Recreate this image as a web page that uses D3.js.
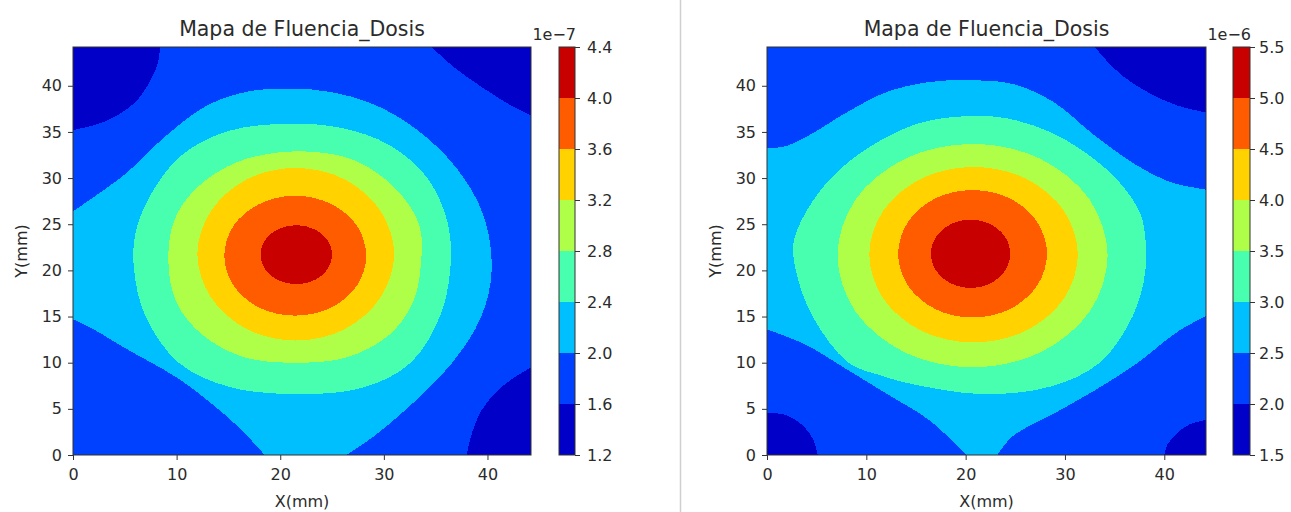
<!DOCTYPE html>
<html>
<head>
<meta charset="utf-8">
<script src="https://cdn.jsdelivr.net/npm/d3@7"></script>
<style>
  html, body { margin: 0; padding: 0; background: #fff; }
  svg { display: block; }
  text { font-family: "DejaVu Sans", sans-serif; fill: #2b2b2b; }
</style>
</head>
<body>
<svg id="fig" width="1291" height="512"></svg>
<script>
// ---- axis ticks and extent (mm) ----
const axisMax = 44.2;
const xTicks = [0, 10, 20, 30, 40];
const yTicks = [0, 5, 10, 15, 20, 25, 30, 35, 40];

// ---- contour levels ----
const leftLevels  = [1.2, 1.6, 2.0, 2.4, 2.8, 3.2, 3.6, 4.0, 4.4];   // x 1e-7
const rightLevels = [1.5, 2.0, 2.5, 3.0, 3.5, 4.0, 4.5, 5.0, 5.5];   // x 1e-6
const leftExponent = "1e\u22127";
const rightExponent = "1e\u22126";

// ---- left map: iso-lines [x mm, y mm] bounding each region z >= level ----
// a region with several pieces runs along the plot edges between pieces
const leftIso16 = [
  [[0, 0]],
  [[0, 35.2], [3, 36.1], [5.8, 38.0], [7.4, 40.4], [8.2, 42.5], [8.4, 44.2]],
  [[34.6, 44.2], [37, 41.8], [39.8, 39.6], [42.2, 37.9], [44.2, 36.8]],
  [[44.2, 9.5], [42.6, 8.4], [41, 7.0], [39.4, 4.8], [38.4, 2.0], [38, 0]]
];
const leftIso20 = [
  [[0, 26.4], [5, 30.4], [9, 34.6], [13, 37.9], [17, 39.4], [21, 39.7], [25, 39.3], [29, 38],
   [33, 35.4], [37, 31.1], [39.6, 26], [40.4, 20], [39.4, 15], [36.6, 10], [32.2, 5], [29, 2], [26.4, 0]],
  [[18.5, 0], [16, 3.0], [13, 5.9], [10, 8.4], [5, 11.6], [2, 13.6], [0, 14.7]]
];
const leftIso24 = [
  [[21.2, 35.9], [26, 35.4], [30.5, 33.6], [34.2, 30], [36.2, 25], [36.4, 20], [35.4, 15], [32.6, 10],
   [28, 7.3], [21.5, 6.6], [15, 7.4], [10.2, 10], [7, 15], [5.9, 20], [6, 23.9], [7.4, 28], [10.4, 32.4], [15, 35.1]]
];
const leftIso28 = [
  [[21.4, 32.9], [27, 32], [31, 29], [33.4, 25], [33.6, 21], [32.8, 16.5], [30.5, 13], [26.5, 10.6],
   [21.5, 10], [16.5, 10.6], [12.5, 13], [10, 16.5], [9.2, 21], [9.8, 25.5], [12, 29], [16, 31.8]]
];
const leftIso32 = [
  [[31.0, 21.75], [29.7, 26.4], [26.25, 29.85], [21.5, 31.1], [16.75, 29.85], [13.3, 26.4],
   [12, 21.75], [13.3, 17.1], [16.75, 13.65], [21.5, 12.4], [26.25, 13.65], [29.7, 17.1]]
];
const leftIso36 = [
  [[28.3, 21.6], [27.4, 24.85], [24.9, 27.2], [21.45, 28.1], [18.0, 27.2], [15.5, 24.85],
   [14.6, 21.6], [15.5, 18.35], [18.0, 15.95], [21.45, 15.1], [24.9, 15.95], [27.4, 18.35]]
];
const leftIso40 = [
  [[25, 21.7], [24.54, 23.3], [23.28, 24.47], [21.55, 24.9], [19.82, 24.47], [18.56, 23.3],
   [18.1, 21.7], [18.56, 20.1], [19.82, 18.93], [21.55, 18.5], [23.28, 18.93], [24.54, 20.1]]
];

// ---- right map ----
const rightIso20 = [
  [[0, 44.2]],
  [[33, 44.2], [34.3, 42.6], [36, 40.9], [38.5, 39.2], [41.2, 37.9], [44.2, 37.1]],
  [[44.2, 3.8], [42.5, 3.3], [41.2, 2.3], [40.3, 1.1], [40, 0]],
  [[5.1, 0], [4.6, 1.8], [3.6, 3.2], [2, 4.3], [0, 4.6]]
];
const rightIso25 = [
  [[0, 33.2], [2, 33.5], [4.5, 34.8], [8, 37.1], [12, 39.3], [16.3, 40.4], [20, 40.6], [24.7, 40.2],
   [28.9, 38.2], [33, 34.6], [37.2, 31.4], [40.5, 29.6], [44.2, 28.75]],
  [[44.2, 15.05], [41.4, 13.4], [37.2, 9.9], [33, 7.0], [28.9, 4.5], [24.7, 2.0], [23.2, 0]],
  [[20.1, 0], [16.3, 3.8], [12.1, 6.6], [8, 9.3], [3.8, 12], [0, 13.6]]
];
const rightIso30 = [
  [[20, 36.7], [24, 36.5], [28.5, 35], [32, 32.8], [35.1, 30], [37.2, 27], [37.9, 25], [38.1, 20],
   [36.8, 15], [33.5, 10], [28.5, 7.4], [21.7, 6.6], [15, 7.6], [11.5, 8.6], [8.2, 10], [4.6, 15],
   [2.9, 20], [2.7, 23.2], [4.6, 27.5], [7.5, 31.1], [11.3, 34], [15.5, 36]]
];
const rightIso35 = [
  [[34.3, 21.6], [32.5, 27.65], [27.5, 32.1], [20.7, 33.7], [13.9, 32.1], [8.9, 27.65],
   [7.1, 21.6], [8.9, 15.55], [13.9, 11.1], [20.7, 9.5], [27.5, 11.1], [32.5, 15.55]]
];
const rightIso40 = [
  [[31.3, 21.7], [29.9, 26.45], [26.05, 29.95], [20.8, 31.2], [15.55, 29.95], [11.7, 26.45],
   [10.3, 21.7], [11.7, 16.95], [15.55, 13.45], [20.8, 12.2], [26.05, 13.45], [29.9, 16.95]]
];
const rightIso45 = [
  [[28.2, 21.8], [27.2, 25.25], [24.45, 27.8], [20.7, 28.7], [16.95, 27.8], [14.2, 25.25],
   [13.2, 21.8], [14.2, 18.35], [16.95, 15.8], [20.7, 14.9], [24.45, 15.8], [27.2, 18.35]]
];
const rightIso50 = [
  [[24.5, 21.8], [23.96, 23.65], [22.5, 25.0], [20.5, 25.5], [18.5, 25.0], [17.04, 23.65],
   [16.5, 21.8], [17.04, 19.95], [18.5, 18.6], [20.5, 18.1], [22.5, 18.6], [23.96, 19.95]]
];

const titleText = "Mapa de Fluencia_Dosis";
const xLabelText = "X(mm)";
const yLabelText = "Y(mm)";

// ---- jet colormap (piecewise linear, matplotlib definition) ----
const jetR = d3.scaleLinear().domain([0, 0.35, 0.66, 0.89, 1]).range([0, 0, 1, 1, 0.5]).clamp(true);
const jetG = d3.scaleLinear().domain([0, 0.125, 0.375, 0.64, 0.91, 1]).range([0, 0, 1, 1, 0, 0]).clamp(true);
const jetB = d3.scaleLinear().domain([0, 0.11, 0.34, 0.65, 1]).range([0.5, 1, 1, 0, 0]).clamp(true);
const jet = t => d3.rgb(Math.round(255 * jetR(t)), Math.round(255 * jetG(t)), Math.round(255 * jetB(t))).formatHex();

const svg = d3.select("#fig");
const tickFont = 16;

// notebook cell divider
svg.append("line").attr("x1", 680.5).attr("x2", 680.5).attr("y1", 0).attr("y2", 512)
  .attr("stroke", "#cfcfcf").attr("stroke-width", 1.5);

// builds a path for a region made of curve pieces joined along the plot edges
function regionPath(pieces, sx, sy) {
  const p = d3.path();
  if (pieces.length === 1) {
    return d3.line().x(d => sx(d[0])).y(d => sy(d[1]))
      .curve(d3.curveCatmullRomClosed.alpha(0.5))(pieces[0]);
  }
  let started = false;
  const ctx = {
    moveTo(a, b) { if (started) p.lineTo(a, b); else { p.moveTo(a, b); started = true; } },
    lineTo(a, b) { p.lineTo(a, b); },
    bezierCurveTo(a, b, c, d, e, f) { p.bezierCurveTo(a, b, c, d, e, f); },
    closePath() {}
  };
  const gen = d3.line().x(d => sx(d[0])).y(d => sy(d[1]))
    .curve(d3.curveCatmullRom.alpha(0.5)).context(ctx);
  pieces.forEach(pc => gen(pc));
  p.closePath();
  return p.toString();
}

function styleTicks(a) {
  a.select(".domain").remove();
  a.selectAll(".tick line").attr("stroke", "#333");
  a.selectAll(".tick text").attr("font-size", tickFont).attr("font-family", "DejaVu Sans").attr("fill", "#2b2b2b");
}

function drawPanel(cfg, idx) {
  const { x0, x1, y0, y1, cb0, cb1, cbPad, ylabX, levels, regions, exponent } = cfg;
  const sx = d3.scaleLinear().domain([0, axisMax]).range([x0, x1]);
  const sy = d3.scaleLinear().domain([0, axisMax]).range([y1, y0]);
  const lo = levels[0], hi = levels[levels.length - 1];
  const bandColor = i => jet(((levels[i] + levels[i + 1]) / 2 - lo) / (hi - lo));

  const g = svg.append("g");
  const clipId = "clip" + idx;
  g.append("clipPath").attr("id", clipId)
    .append("rect").attr("x", x0).attr("y", y0).attr("width", x1 - x0).attr("height", y1 - y0);

  const maps = g.append("g").attr("clip-path", `url(#${clipId})`);
  maps.append("rect").attr("x", x0).attr("y", y0).attr("width", x1 - x0).attr("height", y1 - y0)
    .attr("fill", bandColor(0));
  maps.selectAll("path.band").data(regions).join("path")
    .attr("class", "band")
    .attr("d", r => regionPath(r, sx, sy))
    .attr("fill", (r, i) => bandColor(i + 1))
    .attr("shape-rendering", "crispEdges");

  // frame
  g.append("rect").attr("x", x0).attr("y", y0).attr("width", x1 - x0).attr("height", y1 - y0)
    .attr("fill", "none").attr("stroke", "#333").attr("stroke-width", 1);

  // axes
  const xAxis = d3.axisBottom(sx).tickValues(xTicks).tickSize(5).tickPadding(9).tickFormat(d3.format("d"));
  const yAxis = d3.axisLeft(sy).tickValues(yTicks).tickSize(5).tickPadding(6).tickFormat(d3.format("d"));
  styleTicks(g.append("g").attr("transform", `translate(0,${y1})`).call(xAxis));
  styleTicks(g.append("g").attr("transform", `translate(${x0},0)`).call(yAxis));

  // title and axis labels
  g.append("text").attr("x", (x0 + x1) / 2).attr("y", 36).attr("text-anchor", "middle")
    .attr("font-size", 20.5).text(titleText);
  g.append("text").attr("x", (x0 + x1) / 2).attr("y", 507).attr("text-anchor", "middle")
    .attr("font-size", 16).text(xLabelText);
  g.append("text").attr("transform", `translate(${ylabX},${(y0 + y1) / 2}) rotate(-90)`)
    .attr("text-anchor", "middle").attr("font-size", 16).text(yLabelText);

  // colorbar
  const sc = d3.scaleLinear().domain([lo, hi]).range([y1, y0]);
  const bands = d3.range(levels.length - 1);
  g.selectAll("rect.cb").data(bands).join("rect").attr("class", "cb")
    .attr("x", cb0).attr("width", cb1 - cb0)
    .attr("y", i => sc(levels[i + 1])).attr("height", i => sc(levels[i]) - sc(levels[i + 1]))
    .attr("fill", i => bandColor(i)).attr("shape-rendering", "crispEdges");
  g.append("rect").attr("x", cb0).attr("y", y0).attr("width", cb1 - cb0).attr("height", y1 - y0)
    .attr("fill", "none").attr("stroke", "#333").attr("stroke-width", 1);
  const cAxis = d3.axisRight(sc).tickValues(levels).tickSize(5).tickPadding(cbPad).tickFormat(d3.format(".1f"));
  styleTicks(g.append("g").attr("transform", `translate(${cb1},0)`).call(cAxis));
  g.append("text").attr("x", cb1 + 1).attr("y", y0 - 7).attr("text-anchor", "end")
    .attr("font-size", tickFont).text(exponent);
}

drawPanel({
  x0: 73, x1: 531, y0: 47, y1: 455, cb0: 559, cb1: 575, cbPad: 7, ylabX: 27,
  levels: leftLevels, exponent: leftExponent,
  regions: [leftIso16, leftIso20, leftIso24, leftIso28, leftIso32, leftIso36, leftIso40]
}, 0);

drawPanel({
  x0: 767, x1: 1206, y0: 47, y1: 455, cb0: 1233, cb1: 1250, cbPad: 4, ylabX: 721,
  levels: rightLevels, exponent: rightExponent,
  regions: [rightIso20, rightIso25, rightIso30, rightIso35, rightIso40, rightIso45, rightIso50]
}, 1);
</script>
</body>
</html>
